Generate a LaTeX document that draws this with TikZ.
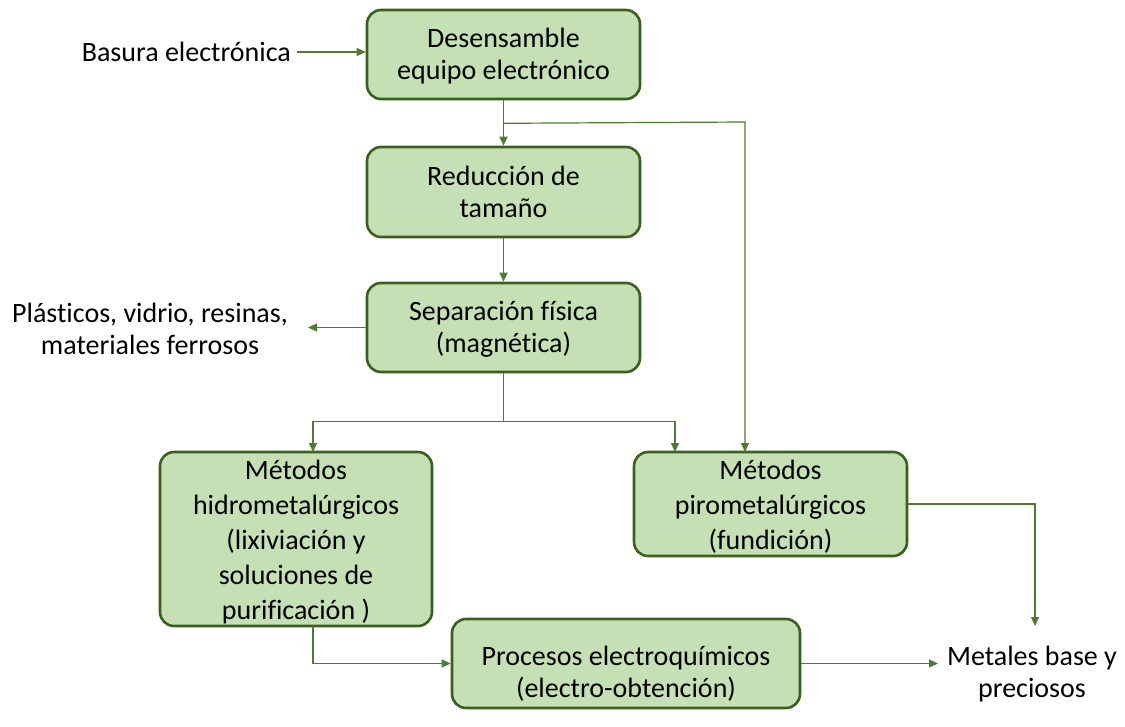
\documentclass[tikz,border=0pt]{standalone}
\usepackage{fontspec}
\setmainfont{Carlito}[Ligatures=NoCommon]
\usetikzlibrary{arrows.meta,calc}
\definecolor{boxfill}{HTML}{C5E0B4}
\definecolor{boxline}{HTML}{3A5F1F}
\definecolor{arr}{HTML}{4E7A33}
\tikzset{
  proc/.style={draw=boxline, line width=2.6pt, fill=boxfill, rounded corners=14pt,
    align=center, inner sep=0pt, font=\fontsize{28}{32}\selectfont},
  lbl/.style={align=center, inner sep=0pt, font=\fontsize{28}{32}\selectfont},
  conn/.style={draw=arr, line width=1.2pt, -{Triangle[length=9pt,width=8pt]}},
  seg/.style={draw=arr, line width=1.2pt}
}
\begin{document}
\begin{tikzpicture}[x=1pt,y=-1pt]
\useasboundingbox (0,0) rectangle (1125,726);
\node[proc, minimum width=273pt, minimum height=89pt, label={[lbl, yshift=-2pt]center:Desensamble\\equipo electrónico}] (des) at (503.5,54.5) {};
\node[proc, minimum width=273pt, minimum height=90pt] (red) at (503.5,192) {Reducción de\\tamaño};
\node[proc, minimum width=273pt, minimum height=89pt, label={[lbl, yshift=-2pt]center:Separación física\\(magnética)}] (sep) at (503.5,327.5) {};
\node[proc, minimum width=272pt, minimum height=174pt, label={[lbl, font=\fontsize{28}{35}\selectfont, yshift=-3pt]center:Métodos\\hidrometalúrgicos\\(lixiviación y\\soluciones de\\purificación )}] (hid) at (296,539) {};
\node[proc, minimum width=273pt, minimum height=104pt, label={[lbl, font=\fontsize{28}{35}\selectfont, yshift=-3pt]center:Métodos\\pirometalúrgicos\\(fundición)}] (pir) at (770.5,504) {};
\node[proc, minimum width=348pt, minimum height=89pt, label={[lbl, yshift=-10pt]center:Procesos electroquímicos\\(electro-obtención)}] (ele) at (626,663.5) {};

\node[lbl, anchor=east] (bas) at (291,52) {Basura electrónica};
\node[lbl] (pla) at (150,329) {Plásticos, vidrio, resinas,\\materiales ferrosos};
\node[lbl] (met) at (1032,674) {Metales base y\\preciosos};

\coordinate (split1) at ($(des.south)+(0,23)$);
\coordinate (split2) at ($(sep.south)+(0,48)$);
\coordinate (hidin) at (313,452);
\coordinate (pirin) at (675,452);
\coordinate (hidout) at (313,626);
\coordinate (metin) at (1035,626);

\draw[conn] ($(bas.east)+(6,0)$) -- (des.west |- bas.east);
\draw[conn] (des.south) -- (red.north);
\draw[conn] (split1) -- (745,122) -- (745,452);
\draw[conn] (red.south) -- (sep.north);
\draw[conn] (sep.west) -- (308,327.5);
\draw[seg] (sep.south) -- (split2);
\draw[conn] (split2) -| (hidin);
\draw[conn] (split2) -| (pirin);
\draw[conn] (pir.east) -| (metin);
\draw[conn] (hidout) |- (ele.west);
\draw[conn] (ele.east) -- (938,663.5);
\end{tikzpicture}
\end{document}
